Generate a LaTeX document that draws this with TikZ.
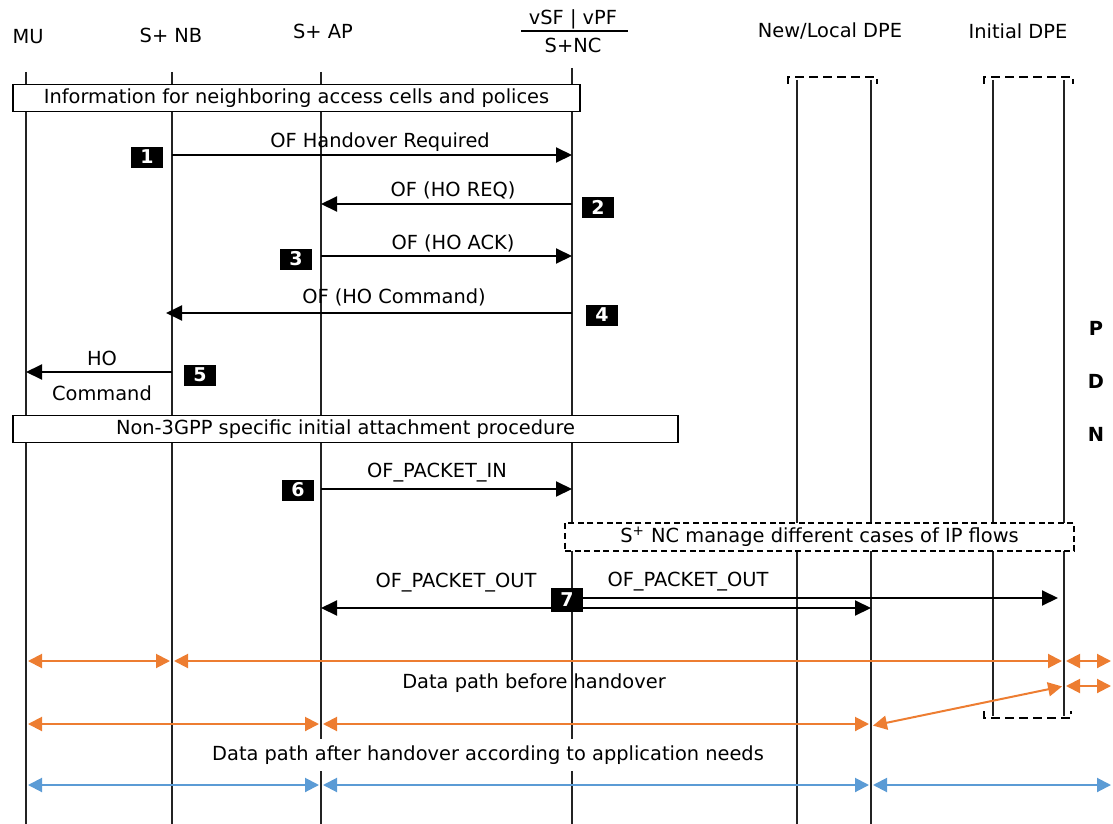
\documentclass[tikz,border=0pt]{standalone}
\usepackage{fontspec}
\setmainfont{DejaVu Sans}
\usetikzlibrary{arrows.meta}
\definecolor{hoorange}{RGB}{237,125,49}
\definecolor{hoblue}{RGB}{91,155,213}
\definecolor{lifegray}{RGB}{35,35,35}

\begin{document}
\begin{tikzpicture}[x=0.5pt, y=-0.5pt,
    font=\fontsize{9.7}{11}\selectfont,
    life/.style={draw=lifegray, line width=0.8pt},
    msg/.style={draw=black, line width=1pt, -{Triangle[length=8pt,width=7.5pt]}},
    twoway/.style={draw=black, line width=1pt, {Triangle[length=8pt,width=7.5pt]}-{Triangle[length=8pt,width=7.5pt]}},
    badge/.style={fill=black, text=white, font=\fontsize{9.5}{10}\selectfont\bfseries,
        minimum width=16pt, minimum height=10.5pt, inner sep=0pt},
    phase/.style={draw, fill=white, line width=0.6pt, minimum height=13.5pt, inner sep=0pt},
    oldpath/.style={draw=hoorange, line width=1pt, shorten <=1pt, shorten >=1pt,
        {Triangle[length=7pt,width=7pt]}-{Triangle[length=7pt,width=7pt]}},
    newpath/.style={draw=hoblue, line width=1pt, shorten <=1pt, shorten >=1pt,
        {Triangle[length=7pt,width=7pt]}-{Triangle[length=7pt,width=7pt]}},
    dpebox/.style={draw, line width=1.3pt, dash pattern=on 4.5pt off 2.5pt}
]
    \useasboundingbox (0,0) rectangle (1113,824);

    % Headers
    \node (mu) at (28,37) {MU};
    \node (nb) at (171,35) {S+ NB};
    \node (ap) at (323,31) {S+ AP};
    \node (vf) at (573,19) {vSF | vPF};
    \node (nc) at (573,45) {S+NC};
    \node (newdpe) at (830,31) {New/Local DPE};
    \node (inidpe) at (1018,31) {Initial DPE};
    \draw[line width=0.7pt] (521,31) -- (628,31);

    % Lifelines
    \coordinate (MU) at (26,72);
    \coordinate (NB) at (172,72);
    \coordinate (AP) at (321,72);
    \coordinate (NC) at (572,68);
    \coordinate (NewL) at (797,80);
    \coordinate (NewR) at (871,80);
    \coordinate (IniL) at (993,80);
    \coordinate (IniR) at (1064,80);
    \foreach \p in {MU,NB,AP,NC,NewL,NewR}
        \draw[life] (\p) -- (\p |- 0,824);
    \draw[life] (IniL) -- (IniL |- 0,716);
    \draw[life] (IniR) -- (IniR |- 0,716);

    % DPE brackets
    \draw[dpebox] (788,84) -- (788,77) -- (877,77) -- (877,84);
    \draw[dpebox] (984,84) -- (984,77) -- (1073,77) -- (1073,84);
    \draw[dpebox] (984,711) -- (984,718) -- (1071,718) -- (1071,711);

    % Phases
    \node[phase, minimum width=283.5pt] (info) at (296.5,98)
        {Information for neighboring access cells and polices};
    \node[phase, minimum width=332.5pt] (attach) at (345.5,429)
        {Non-3GPP specific initial attachment procedure};
    \node[phase, dash pattern=on 3pt off 1.8pt, minimum width=254.5pt, minimum height=14pt] (manage) at (819.5,537)
        {S\textsuperscript{+} NC manage different cases of IP flows};

    % Message 1
    \draw[msg] (NB |- 0,155) -- (NC |- 0,155);
    \node (l1) at (380,142) {OF Handover Required};
    \node[badge] (b1) at (147,157) {1};

    % Message 2
    \draw[msg] (NC |- 0,204) -- (AP |- 0,204);
    \node (l2) at (453,190) {OF (HO REQ)};
    \node[badge] (b2) at (598,207) {2};

    % Message 3
    \draw[msg] (AP |- 0,256) -- (NC |- 0,256);
    \node (l3) at (453,243) {OF (HO ACK)};
    \node[badge] (b3) at (296,259) {3};

    % Message 4
    \draw[msg, shorten >=-3pt] (NC |- 0,313) -- (NB |- 0,313);
    \node (l4) at (394,297) {OF (HO Command)};
    \node[badge] (b4) at (602,315) {4};

    % Message 5
    \draw[msg] (NB |- 0,372) -- (MU |- 0,372);
    \node (l5a) at (102,358) {HO};
    \node (l5b) at (102,393) {Command};
    \node[badge] (b5) at (200,375) {5};

    % Message 6
    \draw[msg] (AP |- 0,489) -- (NC |- 0,489);
    \node (l6) at (437,473) {OF\_PACKET\_IN};
    \node[badge] (b6) at (298,490) {6};

    % Message 7
    \draw[msg] (NC |- 0,598) -- ([xshift=-3pt]IniR |- 0,598);
    \draw[twoway] (AP |- 0,608) -- (NewR |- 0,608);
    \node (l7a) at (456,583) {OF\_PACKET\_OUT};
    \node (l7b) at (688,582) {OF\_PACKET\_OUT};
    \node[badge, minimum height=12pt] (b7) at (567,600) {7};

    % Data path before handover
    \draw[oldpath] (MU |- 0,661) -- (NB |- 0,661);
    \draw[oldpath] (NB |- 0,661) -- (IniR |- 0,661);
    \draw[oldpath] (IniR |- 0,661) -- (1113,661);
    \draw[oldpath] (IniR |- 0,686) -- (1113,686);
    \draw[oldpath] (NewR |- 0,726) -- (IniR |- 0,686);
    \node (before) at (534,683) {Data path before handover};

    % Data path after handover
    \draw[oldpath] (MU |- 0,724) -- (AP |- 0,724);
    \draw[oldpath] (AP |- 0,724) -- (NewR |- 0,724);
    \node[fill=white, inner sep=1pt, minimum height=16pt] (after) at (488,755)
        {Data path after handover according to application needs};
    \draw[newpath] (MU |- 0,785) -- (AP |- 0,785);
    \draw[newpath] (AP |- 0,785) -- (NewR |- 0,785);
    \draw[newpath] (NewR |- 0,785) -- (1113,785);

    % PDN
    \node[font=\fontsize{9.7}{11}\selectfont\bfseries] (p) at (1096,328) {P};
    \node[font=\fontsize{9.7}{11}\selectfont\bfseries] (d) at (1096,381) {D};
    \node[font=\fontsize{9.7}{11}\selectfont\bfseries] (n) at (1096,434) {N};

\end{tikzpicture}
\end{document}
